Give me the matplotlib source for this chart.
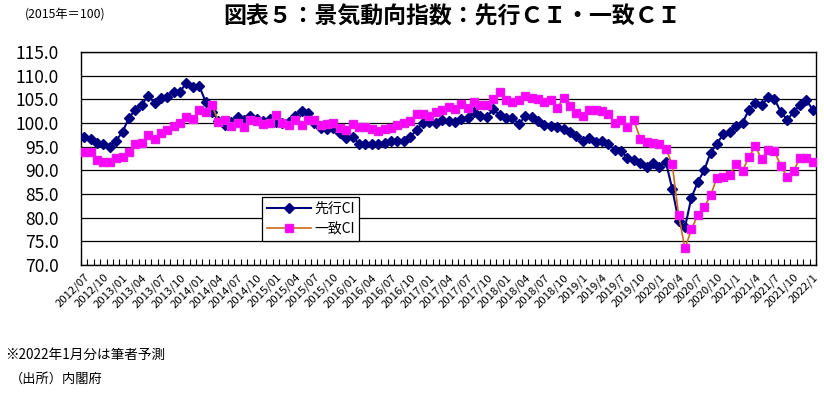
import numpy as np
import matplotlib
matplotlib.use("Agg")
import matplotlib.pyplot as plt

plt.rcParams['font.family'] = ['Noto Sans CJK JP', 'DejaVu Sans']

# 先行CI (2012/07 - 2022/01, 月次)
lead = [
    97.0, 96.7, 95.7, 95.5, 95.0, 96.3,
    98.1, 101.1, 102.8, 103.9, 105.7, 104.3, 105.3, 105.5, 106.5, 106.6, 108.5, 107.5,
    107.8, 104.5, 102.4, 100.5, 99.5, 100.3, 101.2, 100.6, 101.4, 100.8, 100.4, 100.8,
    100.2, 100.0, 100.2, 101.5, 102.6, 102.2, 100.1, 99.0, 98.7, 98.9, 97.8, 96.9,
    97.0, 95.6, 95.6, 95.6, 95.6, 95.8, 96.2, 96.1, 96.1, 97.1, 98.5, 100.1,
    100.3, 100.0, 100.6, 100.5, 100.3, 100.8, 101.0, 102.3, 101.4, 101.3, 102.9, 101.7,
    101.0, 101.0, 99.8, 101.4, 101.3, 100.4, 99.6, 99.4, 99.2, 98.8, 98.1, 97.2,
    96.1, 96.8, 96.0, 96.2, 95.5, 94.4, 94.0, 92.7, 92.1, 91.6, 90.7, 91.5,
    90.8, 91.8, 86.1, 79.4, 78.0, 84.2, 87.5, 90.0, 93.7, 95.6, 97.7, 98.1,
    99.3, 100.0, 102.8, 104.2, 103.7, 105.4, 105.1, 102.3, 100.7, 102.3, 103.9, 104.8,
    102.8,
]

# 一致CI
coin = [
    93.8, 93.8, 92.1, 91.7, 91.7, 92.6,
    92.9, 93.8, 95.5, 95.8, 97.4, 96.7, 97.9, 98.6, 99.3, 100.0, 101.3, 100.8,
    102.7, 102.3, 103.8, 100.3, 100.6, 99.4, 100.1, 99.1, 100.6, 100.5, 99.8, 100.1,
    101.7, 100.1, 99.6, 100.6, 99.5, 100.6, 100.6, 99.6, 99.8, 100.1, 99.0, 98.6,
    99.7, 99.1, 99.1, 98.7, 98.4, 98.7, 99.0, 99.6, 100.1, 100.5, 102.0, 102.0,
    101.5, 102.3, 102.7, 103.4, 102.9, 104.0, 103.1, 104.5, 103.8, 103.8, 105.1, 106.5,
    104.9, 104.4, 104.9, 105.7, 105.2, 105.1, 104.5, 104.9, 103.1, 105.3, 103.6, 102.2,
    101.4, 102.7, 102.7, 102.5, 101.8, 100.1, 100.6, 99.2, 100.6, 96.7, 96.0, 95.8,
    95.5, 94.6, 91.3, 80.6, 73.5, 77.5, 80.6, 82.2, 84.7, 88.4, 88.5, 89.0,
    91.4, 89.9, 92.8, 95.1, 92.3, 94.4, 94.1, 90.9, 88.6, 89.8, 92.7, 92.7,
    91.8,
]

# 横軸ラベル (3か月ごと)
tick_labels = [
    "2012/07", "2012/10", "2013/01", "2013/04", "2013/07", "2013/10",
    "2014/01", "2014/04", "2014/07", "2014/10", "2015/01", "2015/04",
    "2015/07", "2015/10", "2016/01", "2016/04", "2016/07", "2016/10",
    "2017/01", "2017/04", "2017/07", "2017/10", "2018/01", "2018/04",
    "2018/07", "2018/10", "2019/1", "2019/4", "2019/7", "2019/10",
    "2020/1", "2020/4", "2020/7", "2020/10", "2021/1", "2021/4",
    "2021/7", "2021/10", "2022/1",
]

x = np.arange(len(lead))

fig = plt.figure(figsize=(8.24, 3.93), dpi=100)
ax = fig.add_axes([81 / 824, 1 - 265 / 393, 735 / 824, 213 / 393])

ax.plot(x, lead, color='#000080', lw=1.5, marker='D', ms=4.8,
        mfc='#000080', mec='#000080', label='先行CI', zorder=3)
ax.plot(x, coin, color='#CC6A1E', lw=1.2, marker='s', ms=6.3,
        mfc='#FF00FF', mec='#E81CE8', label='一致CI', zorder=4)

ax.set_xlim(-0.5, len(lead) - 0.5)
ax.set_ylim(70, 115)
ax.set_yticks(np.arange(70, 115.1, 5))
ax.set_yticklabels([f"{v:.1f}" for v in np.arange(70, 115.1, 5)], fontsize=12.5)
ax.tick_params(axis='y', length=0, pad=16)
ax.grid(axis='y', color='black', lw=0.9)
ax.set_axisbelow(True)

# 目盛り: 月ごとの小目盛り、3か月ごとのラベル
ax.set_xticks(np.arange(0, len(lead), 3))
ax.set_xticklabels(tick_labels, rotation=45, ha='right', va='top',
                   rotation_mode='anchor', fontsize=8.2)
ax.set_xticks(np.arange(-0.5, len(lead), 1), minor=True)
ax.tick_params(axis='x', which='major', length=0, pad=5)
ax.tick_params(axis='x', which='minor', direction='in', length=4, width=0.8)

for s in ax.spines.values():
    s.set_color('black')
    s.set_linewidth(1.0)

leg = ax.legend(loc='lower left', bbox_to_anchor=(0.246, 0.113), fontsize=10,
                frameon=True, fancybox=False, edgecolor='black', framealpha=1,
                handlelength=3.2, borderpad=0.35, labelspacing=0.45,
                handletextpad=0.2, borderaxespad=0)
leg.get_frame().set_linewidth(0.9)

fig.text(0.549, 0.957, "図表５：景気動向指数：先行ＣＩ・一致ＣＩ",
         ha='center', va='center', fontsize=16.5, fontweight='bold')
fig.text(25 / 824, 1 - 14 / 393, "(2015年＝100)", ha='left', va='center', fontsize=8.8)
fig.text(5 / 824, 1 - 355 / 393, "※2022年1月分は筆者予測", ha='left', va='center', fontsize=9.8)
fig.text(10 / 824, 1 - 379 / 393, "（出所）内閣府", ha='left', va='center', fontsize=9.5)

fig.savefig("out.png", dpi=100)
